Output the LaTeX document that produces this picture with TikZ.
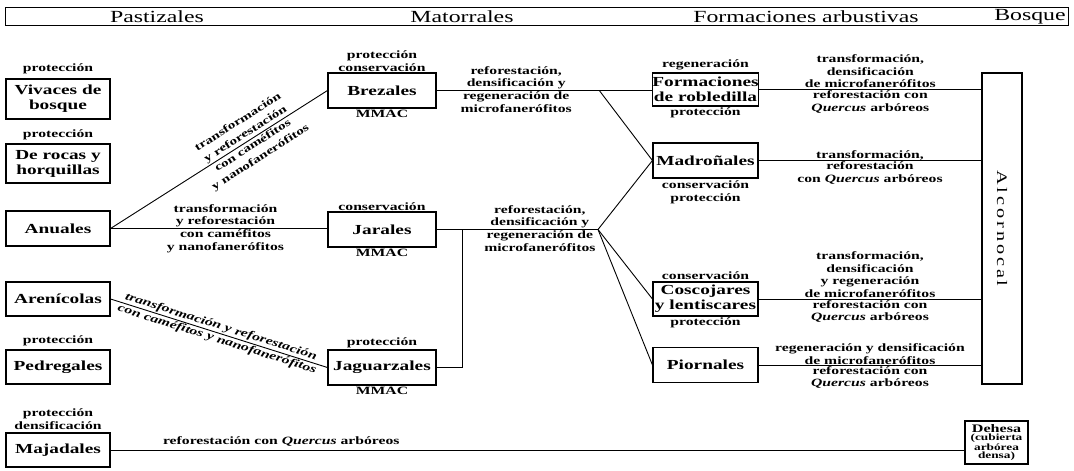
\documentclass[tikz,border=0pt]{standalone}
\usepackage{fontspec}
\setmainfont{Liberation Serif}[FakeStretch=1.4]
\newfontfamily\spacedfont{Liberation Serif}[FakeStretch=1.4,LetterSpace=20]
\newcommand\hdrfont{\fontsize{17}{18}\selectfont}
\newcommand\boxfont{\bfseries\fontsize{13.8}{15}\selectfont}
\newcommand\lblfont{\bfseries\fontsize{11.2}{12.6}\selectfont}
\newcommand\diagfont{\bfseries\fontsize{10.8}{14}\selectfont}
\newcommand\dehfont{\bfseries\fontsize{9.5}{8.6}\selectfont}
\begin{document}
\begin{tikzpicture}[x=1pt,y=-1pt,
  box/.style={draw,line width=1.1pt,font=\boxfont,align=center,inner sep=0pt},
  lbl/.style={font=\lblfont,align=center,inner sep=1pt},
  dlbl/.style={font=\diagfont,align=center,inner sep=1.5pt},
  slbl/.style={font=\lblfont\itshape,align=center,inner sep=1pt},
  hdr/.style={font=\hdrfont,inner sep=0pt},
  conn/.style={line width=0.9pt}]
\useasboundingbox (0,0) rectangle (1074,471);
% header
\draw[line width=0.9pt] (5,7) rectangle (1068,25);
\node[hdr] (h1) at (157,16.5) {Pastizales};
\node[hdr] (h2) at (462,16.5) {Matorrales};
\node[hdr] (h3) at (806,16.5) {Formaciones arbustivas};
\node[hdr] (h4) at (1030,16.5) {Bosque};
% left column
\node[box,minimum width=104,minimum height=40] (viv) at (58,99) {Vivaces de\\bosque};
\node[box,minimum width=104,minimum height=39] (roc) at (58,163.5) {De rocas y\\horquillas};
\node[box,minimum width=104,minimum height=35] (anu) at (58,228.5) {Anuales};
\node[box,minimum width=104,minimum height=34] (are) at (58,299) {Arenícolas};
\node[box,minimum width=104,minimum height=34] (ped) at (58,367) {Pedregales};
\node[box,minimum width=104,minimum height=34] (maj) at (58,450) {Majadales};
% middle column
\node[box,minimum width=108,minimum height=35] (bre) at (382,90.5) {Brezales};
\node[box,minimum width=108,minimum height=35] (jar) at (382,229.5) {Jarales};
\node[box,minimum width=108,minimum height=35] (jag) at (382,367.5) {Jaguarzales};
% right column
\node[box,minimum width=105,minimum height=33] (form) at (705.5,89.5) {Formaciones\\de robledilla};
\node[box,minimum width=105,minimum height=35] (mad) at (705.5,160.5) {Madroñales};
\node[box,minimum width=105,minimum height=34] (cos) at (705.5,299) {Coscojares\\y lentiscares};
\node[box,minimum width=105,minimum height=35] (pio) at (705.5,365) {Piornales};
% bosque
\node[draw,line width=1.1pt,minimum width=40,minimum height=311,inner sep=0pt] (alc) at (1002,228.5) {};
\node[font=\spacedfont\fontsize{14.5}{16}\selectfont,rotate=-90,inner sep=0pt] (alct) at (alc.center) {Alcornocal};
\node[draw,line width=1.5pt,minimum width=63,minimum height=43,inner sep=0pt,align=center,font=\dehfont] (deh) at (996.5,442.5) {{\fontsize{11.5}{10}\selectfont Dehesa}\\(cubierta\\arbórea\\densa)};
% annotations of boxes
\node[lbl,anchor=south,yshift=3pt] (a1) at (viv.north) {protección};
\node[lbl,anchor=south,yshift=2pt] (a2) at (roc.north) {protección};
\node[lbl,anchor=south,yshift=2pt] (a3) at (ped.north) {protección};
\node[lbl,anchor=south,yshift=2pt] (a4) at (maj.north) {protección\\densificación};
\node[lbl,anchor=south] (a5) at (bre.north) {protección\\conservación};
\node[lbl,anchor=north] (a6) at (bre.south) {MMAC};
\node[lbl,anchor=south] (a7) at (jar.north) {conservación};
\node[lbl,anchor=north] (a8) at (jar.south) {MMAC};
\node[lbl,anchor=south] (a9) at (jag.north) {protección};
\node[lbl,anchor=north] (a10) at (jag.south) {MMAC};
\node[lbl,anchor=south,yshift=1pt] (a11) at (form.north) {regeneración};
\node[lbl,anchor=north] (a12) at (form.south) {protección};
\node[lbl,anchor=north,yshift=-1pt] (a13) at (mad.south) {conservación\\protección};
\node[lbl,anchor=south,yshift=1pt] (a14) at (cos.north) {conservación};
\node[lbl,anchor=north] (a15) at (cos.south) {protección};
% connectors left -> middle
\draw[conn] (anu.east) -- (bre.west)
  node[dlbl,sloped,pos=0.64,anchor=south] {transformación\\y reforestación}
  node[dlbl,sloped,pos=0.64,anchor=north] {con caméfitos\\y nanofanerófitos};
\draw[conn] (anu.east) -- (anu.east -| jar.west)
  node[lbl,pos=0.53,anchor=south] {transformación\\y reforestación}
  node[lbl,pos=0.53,anchor=north] {con caméfitos\\y nanofanerófitos};
\draw[conn] (are.east) -- (jag.west)
  node[slbl,sloped,pos=0.5,anchor=south] {transformación y reforestación}
  node[slbl,sloped,pos=0.5,anchor=north] {con caméfitos y nanofanerófitos};
\draw[conn] (maj.east) -- (maj.east -| deh.west)
  node[lbl,pos=0.2,anchor=south,yshift=2pt] {reforestación con \textit{Quercus} arbóreos};
% middle -> right
\draw[conn] (bre.east) -- (bre.east -| form.west)
  node[lbl,pos=0.37,anchor=south] {reforestación,\\densificación y}
  node[lbl,pos=0.37,anchor=north] {regeneración de\\microfanerófitos}
  coordinate[pos=0.756] (b1);
\draw[conn] (b1) -- (mad.west);
\coordinate (b2) at (598,229.5);
\coordinate (j1) at (462,229.5);
\draw[conn] (jar.east) -- (b2)
  node[lbl,pos=0.64,anchor=south] {reforestación,\\densificación y}
  node[lbl,pos=0.64,anchor=north] {regeneración de\\microfanerófitos};
\draw[conn] (jag.east) -| (j1);
\draw[conn] (b2) -- (mad.west);
\draw[conn] (b2) -- (cos.west);
\draw[conn] (b2) -- (pio.west);
% right -> alcornocal
\draw[conn] (form.east) -- (form.east -| alc.west)
  node[lbl,pos=0.5,anchor=south] {transformación,\\densificación\\de microfanerófitos}
  node[lbl,pos=0.5,anchor=north] {reforestación con\\\textit{Quercus} arbóreos};
\draw[conn] (mad.east) -- (mad.east -| alc.west)
  node[lbl,pos=0.5,anchor=south,inner sep=0pt] {transformación,}
  node[lbl,pos=0.5,anchor=north] {reforestación\\con \textit{Quercus} arbóreos};
\draw[conn] (cos.east) -- (cos.east -| alc.west)
  node[lbl,pos=0.5,anchor=south] {transformación,\\densificación\\y regeneración\\de microfanerófitos}
  node[lbl,pos=0.5,anchor=north] {reforestación con\\\textit{Quercus} arbóreos};
\draw[conn] (pio.east) -- (pio.east -| alc.west)
  node[lbl,pos=0.5,anchor=south,inner sep=0pt] {regeneración y densificación\\de microfanerófitos}
  node[lbl,pos=0.5,anchor=north] {reforestación con\\\textit{Quercus} arbóreos};
\end{tikzpicture}
\end{document}
